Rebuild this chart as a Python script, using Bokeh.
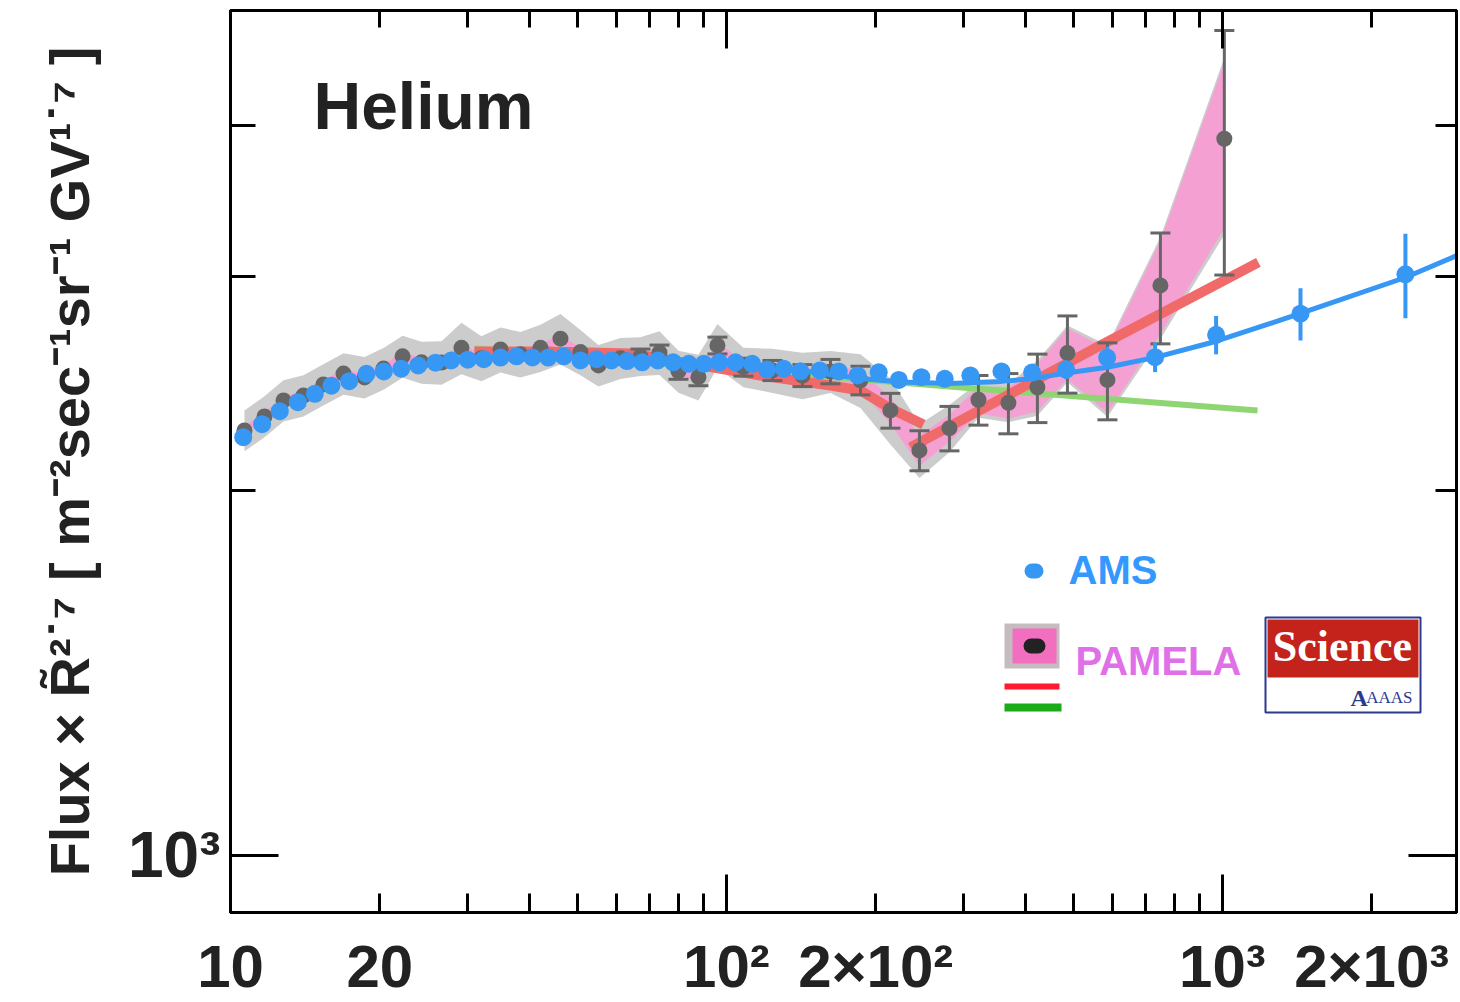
import numpy as np
from bokeh.plotting import figure
from bokeh.models import Range1d, LogAxis, FixedTicker, Label, BoxAnnotation, BasicTickFormatter
from bokeh.embed import file_html
from bokeh.resources import INLINE

# ---------------- data ----------------
ams_rigidity = [10.61, 11.58, 12.57, 13.67, 14.79, 15.98, 17.35, 18.80, 20.38, 22.09,
                23.90, 25.90, 27.86, 30.09, 32.42, 35.03, 37.73, 40.63, 43.71, 46.99,
                50.77, 54.69, 58.64, 63.02, 67.61, 72.70, 78.07, 83.95, 90.0, 96.7,
                104.3, 112.7, 120.8, 130.5, 141.0, 154.2, 168.4, 183.9, 202.8, 222.6,
                247.2, 275.5, 310.3, 358.5, 413.3, 484.1, 585.6, 731.6, 971.2, 1437,
                2339]
ams_flux = [2213, 2268, 2325, 2365, 2403, 2440, 2461, 2496, 2507, 2520,
            2536, 2549, 2560, 2564, 2566, 2574, 2580, 2575, 2574, 2580,
            2560, 2566, 2560, 2557, 2551, 2560, 2551, 2544, 2544, 2551,
            2551, 2544, 2516, 2520, 2508, 2512, 2507, 2488, 2503, 2467,
            2480, 2472, 2488, 2507, 2502, 2516, 2574, 2576, 2688, 2798,
            3015]
ams_err = [12, 12, 12, 12, 12, 12, 12, 12, 12, 12,
           13, 13, 13, 13, 13, 13, 13, 14, 14, 14,
           14, 14, 15, 15, 15, 15, 16, 16, 16, 17,
           17, 18, 18, 19, 20, 21, 22, 23, 24, 25,
           27, 29, 31, 34, 38, 45, 55, 72, 98, 139,
           241]
ams_fit_rigidity = [134.6, 162.1, 186.3, 224.3, 282.9, 356.8, 410.1, 484.7, 586.4, 732.6,
                    968, 1437, 2339, 3000]
ams_fit_flux = [2520, 2493, 2474, 2457, 2450, 2460, 2472, 2500, 2527, 2575,
                2654, 2799, 2997, 3130]

pamela_rigidity = [10.67, 11.71, 12.79, 14.03, 15.39, 16.90, 18.63, 20.35, 22.23, 24.27,
                   26.64, 29.22, 32.06, 35.03, 38.43, 42.17, 46.27, 50.77, 55.2, 61.13,
                   67.08, 73.28, 80.03, 87.8, 95.9, 108.2, 123.8, 142.3, 162.1, 186.3,
                   214.1, 245.0, 281.6, 322.2, 370.3, 423.6, 487.0, 586.4, 749.9, 1009]
pamela_flux = [2241, 2302, 2373, 2395, 2446, 2497, 2479, 2521, 2580, 2551,
               2550, 2622, 2571, 2614, 2590, 2622, 2668, 2601, 2536, 2571,
               2580, 2598, 2508, 2480, 2634, 2528, 2512, 2488, 2507, 2465,
               2328, 2158, 2251, 2376, 2362, 2433, 2596, 2467, 2952, 3901]
pamela_err = [22, 22, 23, 23, 24, 24, 24, 25, 25, 25,
              25, 26, 26, 26, 26, 26, 27, 26, 25, 30,
              36, 38, 38, 40, 42, 43, 48, 52, 58, 67,
              77, 82, 95, 112, 135, 158, 190, 180, 310, 890]
pamela_stat_band = [18, 18, 19, 19, 20, 20, 20, 20, 21, 20,
                    20, 21, 21, 21, 21, 21, 21, 21, 20, 21,
                    21, 21, 20, 20, 21, 20, 20, 25, 35, 45,
                    58, 62, 58, 60, 70, 110, 125, 150, 260, 610]
pamela_sys_band = [87, 90, 93, 94, 96, 98, 98, 100, 103, 102,
                   105, 128, 110, 112, 112, 118, 128, 112, 100, 100,
                   95, 108, 100, 108, 110, 95, 105, 110, 100, 126,
                   146, 110, 101, 80, 85, 128, 140, 168, 285, 650]

pamela_bpl_low_rigidity = [31.04, 44.17, 64.05, 88.64, 117.1, 162.1, 186.3, 214.1, 249.5]
pamela_bpl_low_flux = [2604, 2604, 2594, 2536, 2488, 2441, 2418, 2337, 2267]
pamela_bpl_high_rigidity = [235, 567.5, 1182]
pamela_bpl_high_flux = [2170, 2634, 3084]
pamela_spl_rigidity = [31.04, 257.8, 1177]
pamela_spl_flux = [2619, 2443, 2328]

x_major_ticks = [10, 100, 1000]
x_minor_ticks = [20, 30, 40, 50, 60, 70, 80, 90, 200, 300, 400, 500, 600, 700, 800, 900, 2000]
x_label_ticks = [10, 20, 100, 200, 1000, 2000]
x_tick_labels = ["10", "20", "10²", "2×10²", "10³", "2×10³"]
y_major_ticks = [1000]
y_minor_ticks = [2000, 3000, 4000]
y_tick_labels = ["10³"]

# ---------------- styling ----------------
BLUE = "#3797f5"
DARK = "#666666"
GREY_BAND = "#cccccc"
PINK_BAND = "#f4a0d2"
RED = "#f06a6a"
GREEN = "#8fd672"
FONT = "Liberation Sans"

p = figure(width=1460, height=1002, x_axis_type="log", y_axis_type="log",
           x_range=Range1d(10, 2965), y_range=Range1d(897, 4977),
           x_axis_location=None, y_axis_location=None,
           output_backend="svg", toolbar_location=None,
           min_border_left=230, min_border_right=4, min_border_top=10, min_border_bottom=90,
           background_fill_color="white", border_fill_color="white")
p.grid.grid_line_color = None
p.outline_line_color = "black"
p.outline_line_width = 3


def tick_axis(major, minor, maj_len, min_len, labels=None):
    ax = LogAxis(ticker=FixedTicker(ticks=major, minor_ticks=minor),
                 formatter=BasicTickFormatter())
    ax.major_tick_in = maj_len
    ax.major_tick_out = 0
    ax.minor_tick_in = min_len
    ax.minor_tick_out = 0
    ax.major_tick_line_width = 3
    ax.minor_tick_line_width = 3
    ax.major_tick_line_color = "black"
    ax.minor_tick_line_color = "black"
    ax.axis_line_color = "black"
    ax.axis_line_width = 3
    if labels is None:
        ax.major_label_overrides = {t: "" for t in major}
        ax.major_label_text_font_size = "1px"
        ax.major_label_standoff = 0
    else:
        ax.major_label_overrides = dict(zip(major, labels))
    return ax


# bottom: ticks, then a label-only axis
p.add_layout(tick_axis(x_major_ticks, x_minor_ticks, 38, 19), "below")
bottom_labels = LogAxis(ticker=FixedTicker(ticks=x_label_ticks, minor_ticks=[]),
                        formatter=BasicTickFormatter(),
                        major_label_overrides=dict(zip(x_label_ticks, x_tick_labels)))
bottom_labels.axis_line_color = None
bottom_labels.major_tick_line_color = None
bottom_labels.minor_tick_line_color = None
bottom_labels.major_tick_in = 0
bottom_labels.major_tick_out = 0
bottom_labels.minor_tick_in = 0
bottom_labels.minor_tick_out = 0
bottom_labels.major_label_standoff = 20
bottom_labels.major_label_text_font = FONT
bottom_labels.major_label_text_font_style = "bold"
bottom_labels.major_label_text_font_size = "60px"
bottom_labels.major_label_text_color = "#222222"
p.add_layout(bottom_labels, "below")

# top
p.add_layout(tick_axis(x_major_ticks, x_minor_ticks, 38, 17), "above")

# left
left = tick_axis(y_major_ticks, y_minor_ticks, 48, 25, labels=y_tick_labels)
left.major_label_text_font = FONT
left.major_label_text_font_style = "bold"
left.major_label_text_font_size = "64px"
left.major_label_text_color = "#222222"
left.major_label_standoff = 10
left.axis_label = "Flux × R\u0303²˙⁷ [ m⁻²sec⁻¹sr⁻¹ GV¹˙⁷ ]"
left.axis_label_text_font = FONT
left.axis_label_text_font_style = "bold"
left.axis_label_text_font_size = "56px"
left.axis_label_text_color = "#222222"
left.axis_label_standoff = 24
p.add_layout(left, "left")

# right
p.add_layout(tick_axis(y_major_ticks, y_minor_ticks, 48, 21), "right")

# ---------------- PAMELA bands ----------------
pr = np.array(pamela_rigidity)
pf = np.array(pamela_flux)
p.varea(x=pr, y1=pf - np.array(pamela_sys_band), y2=pf + np.array(pamela_sys_band),
        fill_color=GREY_BAND, fill_alpha=1.0)
p.varea(x=pr, y1=pf - np.array(pamela_stat_band), y2=pf + np.array(pamela_stat_band),
        fill_color=PINK_BAND, fill_alpha=1.0)

# PAMELA fits
p.line(pamela_spl_rigidity, pamela_spl_flux, line_color=GREEN, line_width=6)
p.line(pamela_bpl_low_rigidity, pamela_bpl_low_flux, line_color=RED, line_width=10)
p.line(pamela_bpl_high_rigidity, pamela_bpl_high_flux, line_color=RED, line_width=10)

# PAMELA error bars (only where they stick out of the marker)
pe = np.array(pamela_err)
show = pe / pf > 0.013
p.segment(x0=pr[show], y0=(pf - pe)[show], x1=pr[show], y1=(pf + pe)[show],
          line_color=DARK, line_width=3)
p.scatter(x=np.concatenate([pr[show], pr[show]]),
          y=np.concatenate([(pf - pe)[show], (pf + pe)[show]]),
          marker="dash", size=20, line_color=DARK, line_width=3)
p.scatter(x=pr, y=pf, size=16, fill_color=DARK, line_color=None)

# AMS
ar = np.array(ams_rigidity)
af = np.array(ams_flux)
ae = np.array(ams_err)
p.segment(x0=ar, y0=af - ae, x1=ar, y1=af + ae, line_color=BLUE, line_width=4)
p.line(ams_fit_rigidity, ams_fit_flux, line_color=BLUE, line_width=5)
p.scatter(x=ar, y=af, size=18, fill_color=BLUE, line_color=None)


# ---------------- annotations (screen units relative to plot frame) ----------------
def box(l, r, b, t, color, radius=0, line_color=None, line_width=0):
    return BoxAnnotation(left=l, right=r, bottom=b, top=t,
                         left_units="screen", right_units="screen",
                         bottom_units="screen", top_units="screen",
                         fill_color=color, fill_alpha=1.0,
                         line_color=line_color, line_alpha=1.0, line_width=line_width,
                         border_radius=radius)


def label(x, y, text, size, color, font=FONT, style="bold", align="left"):
    return Label(x=x, y=y, x_units="screen", y_units="screen", text=text,
                 text_font=font, text_font_style=style, text_font_size=size,
                 text_color=color, text_align=align, text_baseline="alphabetic")


p.add_layout(label(83, 807, "Helium", "66px", "#222222"))

# AMS legend
p.add_layout(box(794, 813, 334, 349, BLUE, radius=8))
p.add_layout(label(838, 343, "AMS", "40px", "#3399ff"))

# PAMELA legend
p.add_layout(box(774, 829, 244, 289, "#c5bcc0"))
p.add_layout(box(782, 826, 249, 284, "#f26fc0"))
p.add_layout(box(793, 815, 259, 274, "#222222", radius=8))
p.add_layout(box(774, 829, 223, 229, "#ff1a30"))
p.add_layout(box(774, 831, 201, 209, "#1aaa1a"))
p.add_layout(label(845, 252, "PAMELA", "40px", "#e070e8"))

# Science / AAAS badge
p.add_layout(box(1035, 1190, 200, 295, "white", line_color="#2b3990", line_width=2))
p.add_layout(box(1037, 1188, 235, 293, "#c4231b"))
p.add_layout(label(1112, 266, "Science", "44px", "white", font="Liberation Serif", align="center"))
p.add_layout(label(1120, 215, "A", "24px", "#2b3990", font="Liberation Serif"))
p.add_layout(label(1182, 215, "AAAS", "17px", "#2b3990", font="Liberation Serif",
                   style="normal", align="right"))

open("out.html", "w").write(file_html(p, INLINE))
